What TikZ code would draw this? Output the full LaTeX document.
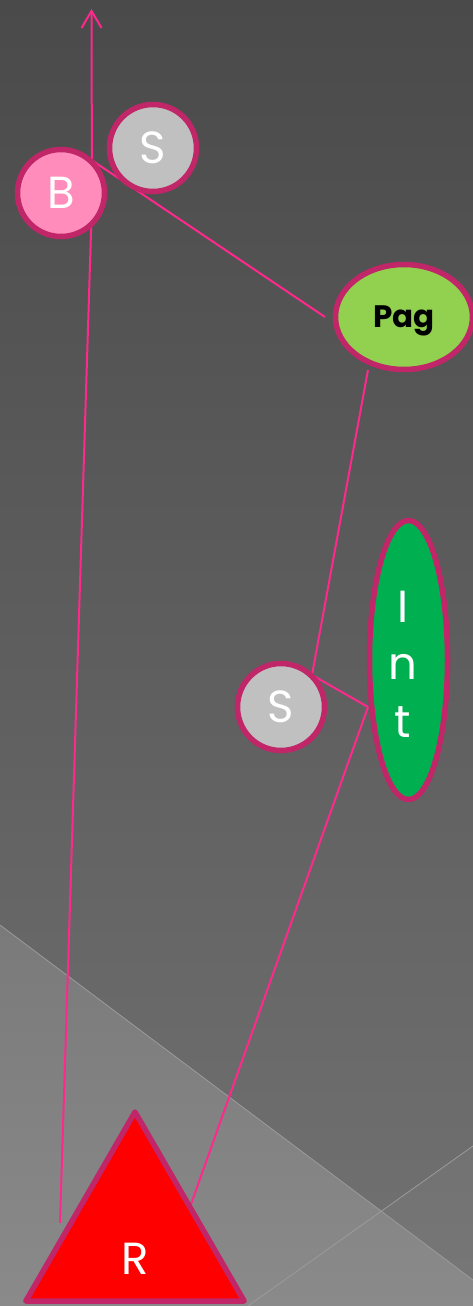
\documentclass[tikz,border=0pt]{standalone}
\usepackage{fontspec}
\setmainfont{Poppins}
\usetikzlibrary{shapes.geometric,arrows.meta}
\definecolor{bord}{RGB}{192,38,104}
\definecolor{pinkln}{RGB}{255,40,140}
\definecolor{bfill}{RGB}{255,140,186}
\definecolor{sfill}{RGB}{192,192,192}
\definecolor{pagfill}{HTML}{92D050}
\definecolor{intfill}{HTML}{00B050}
\definecolor{bgtop}{RGB}{74,74,74}
\definecolor{bgbot}{RGB}{114,114,114}
\definecolor{lowtop}{RGB}{122,122,122}
\definecolor{lowbot}{RGB}{138,138,138}
\definecolor{thin}{RGB}{155,155,155}
\tikzset{
  shapebase/.style={draw=bord, line width=5.5pt, inner sep=0pt, line join=round},
  circnode/.style={shapebase, circle, minimum size=87pt, text=white,
    font=\fontsize{45}{50}\selectfont},
  conn/.style={draw=pinkln, line width=2pt},
  bgline/.style={draw=thin, line width=0.8pt}
}
\begin{document}
\begin{tikzpicture}[x=1pt,y=-1pt]
\useasboundingbox (0,0) rectangle (473,1306);
% background
\shade[top color=bgtop, bottom color=bgbot] (0,0) rectangle (473,1306);
\fill[white, opacity=0.04] (248,1306) -- (473,1146) -- (473,1306) -- cycle;
\shade[top color=lowtop, bottom color=lowbot] (0,925) -- (473,1280) -- (473,1306) -- (0,1306) -- cycle;
\draw[bgline] (0,925) -- (473,1280);
\draw[bgline] (248,1306) -- (473,1146);

% junction coordinates
\coordinate (top) at (91.5,9);
\coordinate (jb) at (92,200);
\coordinate (jd) at (91.5,160);
\coordinate (rl) at (60,1223);
\coordinate (pl) at (325,317);
\coordinate (pb) at (368,370);
\coordinate (sj) at (312,675);
\coordinate (ij) at (368,707);
\coordinate (rr) at (190,1207);

% connectors (drawn below nodes)
\draw[conn] (rl) -- (jb);
\draw[conn, -{Straight Barb[length=17pt,width=20pt]}] (jb) -- (top);
\draw[conn] (jd) -- (pl);
\draw[conn] (pb) -- (sj) -- (ij);
\draw[conn] (ij) -- (rr);

% nodes
\node[circnode, fill=sfill] (S1) at (153,148) {S};
\node[circnode, fill=bfill] (B) at (61,193) {B};
\node[circnode, fill=sfill] (S2) at (281,707) {S};
\node[shapebase, ellipse, fill=pagfill, minimum width=137pt, minimum height=105pt,
  text depth=0pt, font=\bfseries\fontsize{31}{36}\selectfont, text=black] (Pag) at (404,317) {Pag};
\node[shapebase, ellipse, fill=intfill, minimum width=78pt, minimum height=279pt] (Int) at (408.5,660) {};
\node[text=white, align=center, font=\fontsize{45}{57.5}\selectfont, inner sep=0pt, anchor=base]
  (IntT) at (403,737) {I\\n\\t};
\node[shapebase, regular polygon, regular polygon sides=3, minimum size=252pt, fill=red] (R) at (135,1238) {};
\node[text=white, font=\fontsize{45}{50}\selectfont, anchor=base, inner sep=0pt] (RT) at (135,1274) {R};
\end{tikzpicture}
\end{document}
